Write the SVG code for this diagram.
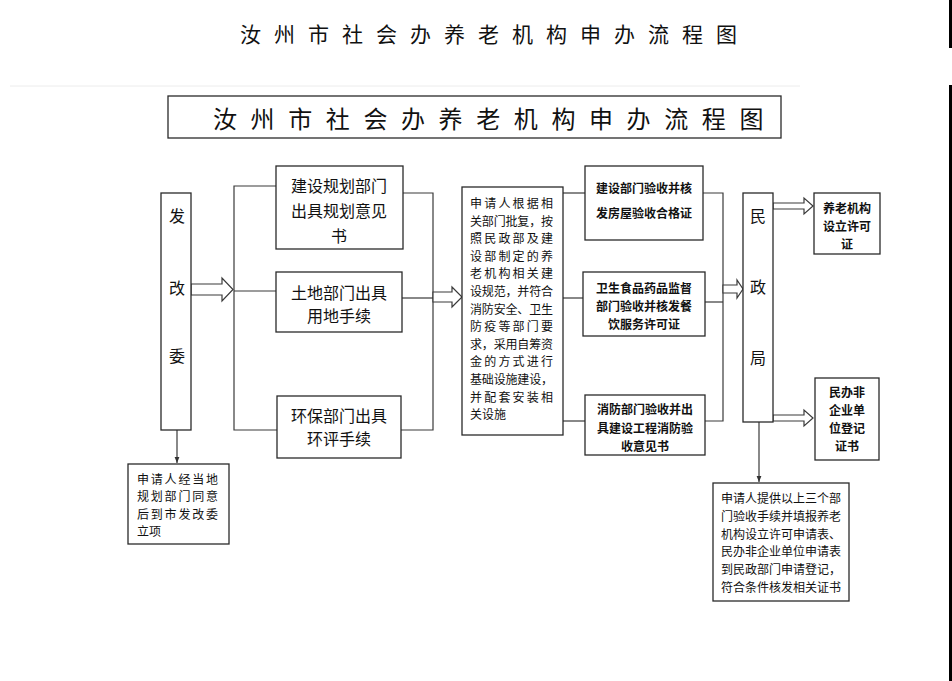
<svg xmlns="http://www.w3.org/2000/svg" width="952" height="681" viewBox="0 0 952 681">
<defs>
<style>
.box{fill:#fff;stroke:#2a2a2a;stroke-width:1.3}
.ln{fill:none;stroke:#3a3a3a;stroke-width:1.2}
.dbl{fill:#fff;stroke:#3a3a3a;stroke-width:1.2;stroke-linejoin:miter}
.t{font-family:"Noto Sans CJK SC","Noto Sans CJK JP",sans-serif;fill:#111;text-anchor:middle;dominant-baseline:central}
.m{font-size:16px}
.s{font-size:12px}
.b{font-size:12px;font-weight:bold}
</style>
<marker id="ah" viewBox="0 0 10 10" refX="10" refY="5" markerWidth="6" markerHeight="6" orient="auto" markerUnits="userSpaceOnUse">
<path d="M0,1 L10,5 L0,9 Z" fill="#333"/>
</marker>
</defs>
<rect width="952" height="681" fill="#fff"/>
<rect x="949" y="0" width="3" height="48" fill="#000"/>
<rect x="949" y="85" width="3" height="596" fill="#000"/>
<line x1="10" y1="86" x2="800" y2="86" stroke="#ececec" stroke-width="1"/>
<text x="240" y="33" class="t" style="text-anchor:start;font-size:21px;letter-spacing:13px">汝州市社会办养老机构申办流程图</text>

<g id="title-box">
<rect class="box" x="168" y="96" width="613" height="42"/>
<text x="213" y="117" class="t" style="text-anchor:start;font-size:24px;letter-spacing:13.6px">汝州市社会办养老机构申办流程图</text>
</g>

<g id="connectors">
<polygon class="dbl" points="191,284 222,284 222,278 233,289.5 222,301 222,295 191,295"/>
<polyline class="ln" points="276,186 234,186 234,430 277,430"/>
<line class="ln" x1="234" y1="291" x2="276" y2="291"/>
<polyline class="ln" points="403,193 433,193 433,430 401,430"/>
<line class="ln" x1="402" y1="298" x2="433" y2="298"/>
<polygon class="dbl" points="433,292 452,292 452,287 462,297 452,307 452,302 433,302"/>
<line class="ln" x1="563" y1="193" x2="585" y2="193"/>
<line class="ln" x1="563" y1="298" x2="583" y2="298"/>
<line class="ln" x1="563" y1="421" x2="585" y2="421"/>
<polyline class="ln" points="703,193 723,193 723,421 705,421"/>
<line class="ln" x1="705" y1="302" x2="723" y2="302"/>
<polygon class="dbl" points="723,285 737,285 737,280 743,289 737,298 737,293 723,293"/>
<polygon class="dbl" points="773,203 804,203 804,198 813,206 804,214 804,209 773,209"/>
<polygon class="dbl" points="773,415 804,415 804,410 813,418 804,426 804,421 773,421"/>
<line class="ln" x1="177" y1="430" x2="177" y2="463" marker-end="url(#ah)"/>
<line class="ln" x1="759" y1="422" x2="759" y2="482" marker-end="url(#ah)"/>
</g>

<g id="fagaiwei">
<rect class="box" x="161" y="193" width="30" height="237"/>
<text class="t m" x="177" y="215">发</text>
<text class="t m" x="177" y="287">改</text>
<text class="t m" x="177" y="355">委</text>
</g>

<g id="guihua">
<rect class="box" x="276" y="166" width="127" height="83"/>
<text class="t m" x="339" y="185">建设规划部门</text>
<text class="t m" x="339" y="210">出具规划意见</text>
<text class="t m" x="339" y="235">书</text>
</g>

<g id="tudi">
<rect class="box" x="276" y="272" width="126" height="60"/>
<text class="t m" x="339" y="292">土地部门出具</text>
<text class="t m" x="339" y="315">用地手续</text>
</g>

<g id="huanbao">
<rect class="box" x="277" y="396" width="124" height="62"/>
<text class="t m" x="339" y="415">环保部门出具</text>
<text class="t m" x="339" y="438">环评手续</text>
</g>

<g id="jianshe">
<rect class="box" x="462" y="187" width="101" height="248"/>
<g class="t s" style="text-anchor:start">
<text x="470" y="202" textLength="83" lengthAdjust="spacing">申请人根据相</text>
<text x="470" y="220" textLength="83" lengthAdjust="spacing">关部门批复，按</text>
<text x="470" y="237" textLength="83" lengthAdjust="spacing">照民政部及建</text>
<text x="470" y="255" textLength="83" lengthAdjust="spacing">设部制定的养</text>
<text x="470" y="272" textLength="83" lengthAdjust="spacing">老机构相关建</text>
<text x="470" y="290" textLength="83" lengthAdjust="spacing">设规范，并符合</text>
<text x="470" y="308" textLength="83" lengthAdjust="spacing">消防安全、卫生</text>
<text x="470" y="325" textLength="83" lengthAdjust="spacing">防疫等部门要</text>
<text x="470" y="343" textLength="83" lengthAdjust="spacing">求，采用自筹资</text>
<text x="470" y="360" textLength="83" lengthAdjust="spacing">金的方式进行</text>
<text x="470" y="378" textLength="83" lengthAdjust="spacing">基础设施建设，</text>
<text x="470" y="396" textLength="83" lengthAdjust="spacing">并配套安装相</text>
<text x="470" y="413">关设施</text>
</g>
</g>

<g id="yanshou-fangwu">
<rect class="box" x="585" y="166" width="118" height="74"/>
<text class="t b" x="644" y="187">建设部门验收并核</text>
<text class="t b" x="644" y="212">发房屋验收合格证</text>
</g>

<g id="yanshou-weisheng">
<rect class="box" x="583" y="272" width="122" height="64"/>
<text class="t b" x="644" y="287">卫生食品药品监督</text>
<text class="t b" x="644" y="305">部门验收并核发餐</text>
<text class="t b" x="644" y="323">饮服务许可证</text>
</g>

<g id="yanshou-xiaofang">
<rect class="box" x="585" y="395" width="120" height="60"/>
<text class="t b" x="645" y="408">消防部门验收并出</text>
<text class="t b" x="645" y="427">具建设工程消防验</text>
<text class="t b" x="645" y="445">收意见书</text>
</g>

<g id="minzhengju">
<rect class="box" x="743" y="193" width="30" height="229"/>
<text class="t m" x="758" y="215">民</text>
<text class="t m" x="758" y="286">政</text>
<text class="t m" x="758" y="357">局</text>
</g>

<g id="xukezheng">
<rect class="box" x="814" y="193" width="66" height="61"/>
<text class="t b" x="847" y="207">养老机构</text>
<text class="t b" x="847" y="225">设立许可</text>
<text class="t b" x="847" y="243">证</text>
</g>

<g id="dengjizheng">
<rect class="box" x="815" y="378" width="64" height="82"/>
<text class="t b" x="847" y="391">民办非</text>
<text class="t b" x="847" y="409">企业单</text>
<text class="t b" x="847" y="427">位登记</text>
<text class="t b" x="847" y="445">证书</text>
</g>

<g id="lixiang">
<rect class="box" x="128" y="464" width="101" height="80"/>
<g class="t s" style="text-anchor:start">
<text x="137" y="478" textLength="81" lengthAdjust="spacing">申请人经当地</text>
<text x="137" y="495.5" textLength="81" lengthAdjust="spacing">规划部门同意</text>
<text x="137" y="513" textLength="81" lengthAdjust="spacing">后到市发改委</text>
<text x="137" y="530.5">立项</text>
</g>
</g>

<g id="shenqing">
<rect class="box" x="713" y="483" width="136" height="118"/>
<g class="t" style="font-size:12px">
<text x="781" y="497">申请人提供以上三个部</text>
<text x="781" y="515">门验收手续并填报养老</text>
<text x="781" y="533">机构设立许可申请表、</text>
<text x="781" y="550">民办非企业单位申请表</text>
<text x="781" y="568">到民政部门申请登记，</text>
<text x="781" y="586">符合条件核发相关证书</text>
</g>
</g>
</svg>
